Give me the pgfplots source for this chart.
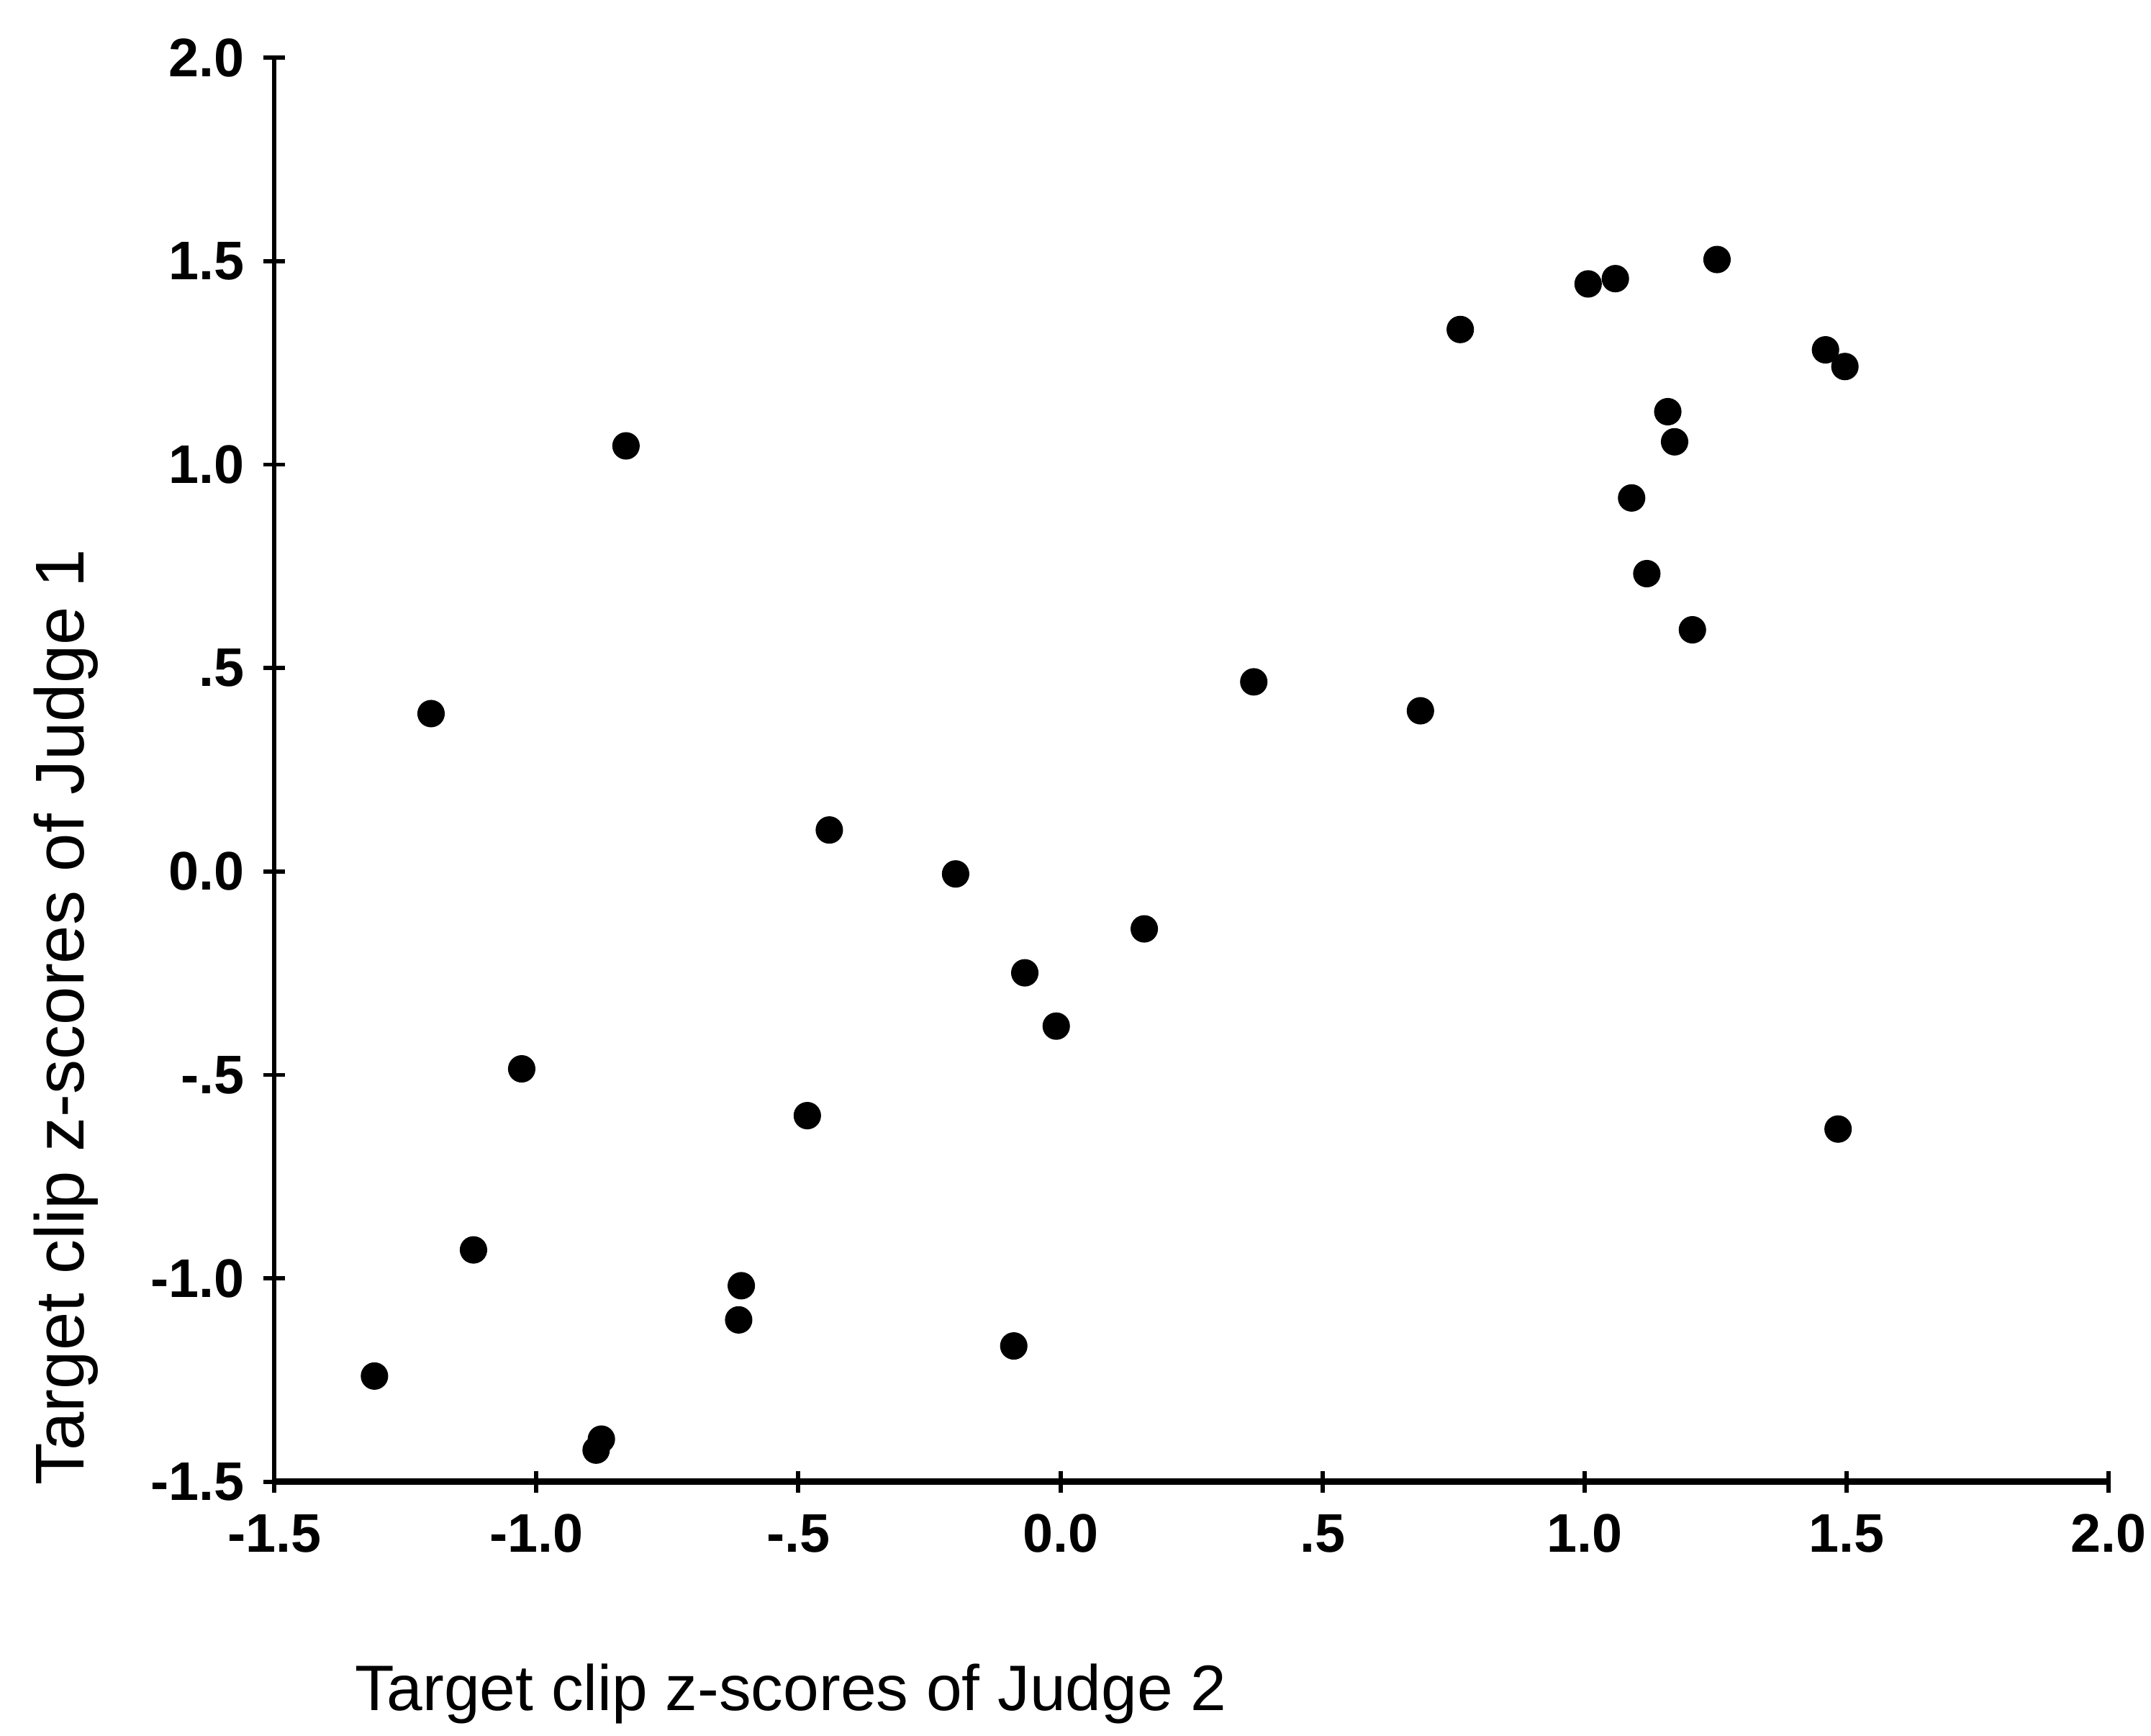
\documentclass[border=0pt]{standalone}
\usepackage{pgfplots}
\pgfplotsset{compat=1.18}
\usepackage{fontspec}
\setmainfont{Liberation Sans}
\begin{document}
\begin{tikzpicture}
\begin{axis}[
  scale only axis,
  width=13.64cm, height=10.59cm,
  xmin=-1.5, xmax=2.0, ymin=-1.5, ymax=2.0,
  axis x line*=bottom, axis y line*=left,
  x axis line style={line width=1.4pt},
  y axis line style={line width=0.9pt},
  xtick={-1.5,-1,-0.5,0,0.5,1,1.5,2},
  xticklabels={-1.5,-1.0,-.5,0.0,.5,1.0,1.5,2.0},
  ytick={-1.5,-1,-0.5,0,0.5,1,1.5,2},
  yticklabels={-1.5,-1.0,-.5,0.0,.5,1.0,1.5,2.0},
  tick align=center,
  major tick length=0.16cm,
  tick style={line width=0.9pt, black},
  ticklabel style={font=\fontsize{11.5}{13}\selectfont\bfseries},
  xticklabel style={yshift=-0.12cm, inner sep=1pt},
  yticklabel style={xshift=-0.02cm},
  clip=false,
]
\addplot[only marks, mark=*, mark size=2.7pt, black] coordinates {
(0.763,1.332) (1.007,1.444) (1.059,1.457) (1.253,1.504)
(1.460,1.282) (1.497,1.241) (1.159,1.130) (1.172,1.056)
(1.090,0.918) (1.119,0.732) (1.206,0.594) (0.369,0.466)
(0.687,0.395) (-0.829,1.046) (-1.201,0.388) (-0.441,0.102)
(-0.200,-0.006) (0.160,-0.141) (-0.068,-0.249) (-0.008,-0.380)
(-1.028,-0.485) (-0.483,-0.600) (1.484,-0.633) (-1.120,-0.930)
(-0.609,-1.018) (-0.614,-1.102) (-0.089,-1.166) (-1.309,-1.240)
(-0.876,-1.395) (-0.886,-1.422)
};
\node[anchor=west, font=\fontsize{13.6}{15}\selectfont, inner sep=0pt] at (rel axis cs:0.0434,-0.149) {Target clip z-scores of Judge 2};
\node[rotate=90, anchor=west, font=\fontsize{14.6}{16}\selectfont, inner sep=0pt] at (rel axis cs:-0.1137,-0.003) {Target clip z-scores of Judge 1};
\path (rel axis cs:-0.1496,-0.1782) rectangle (rel axis cs:1.0232,1.0405);
\end{axis}
\end{tikzpicture}
\end{document}
